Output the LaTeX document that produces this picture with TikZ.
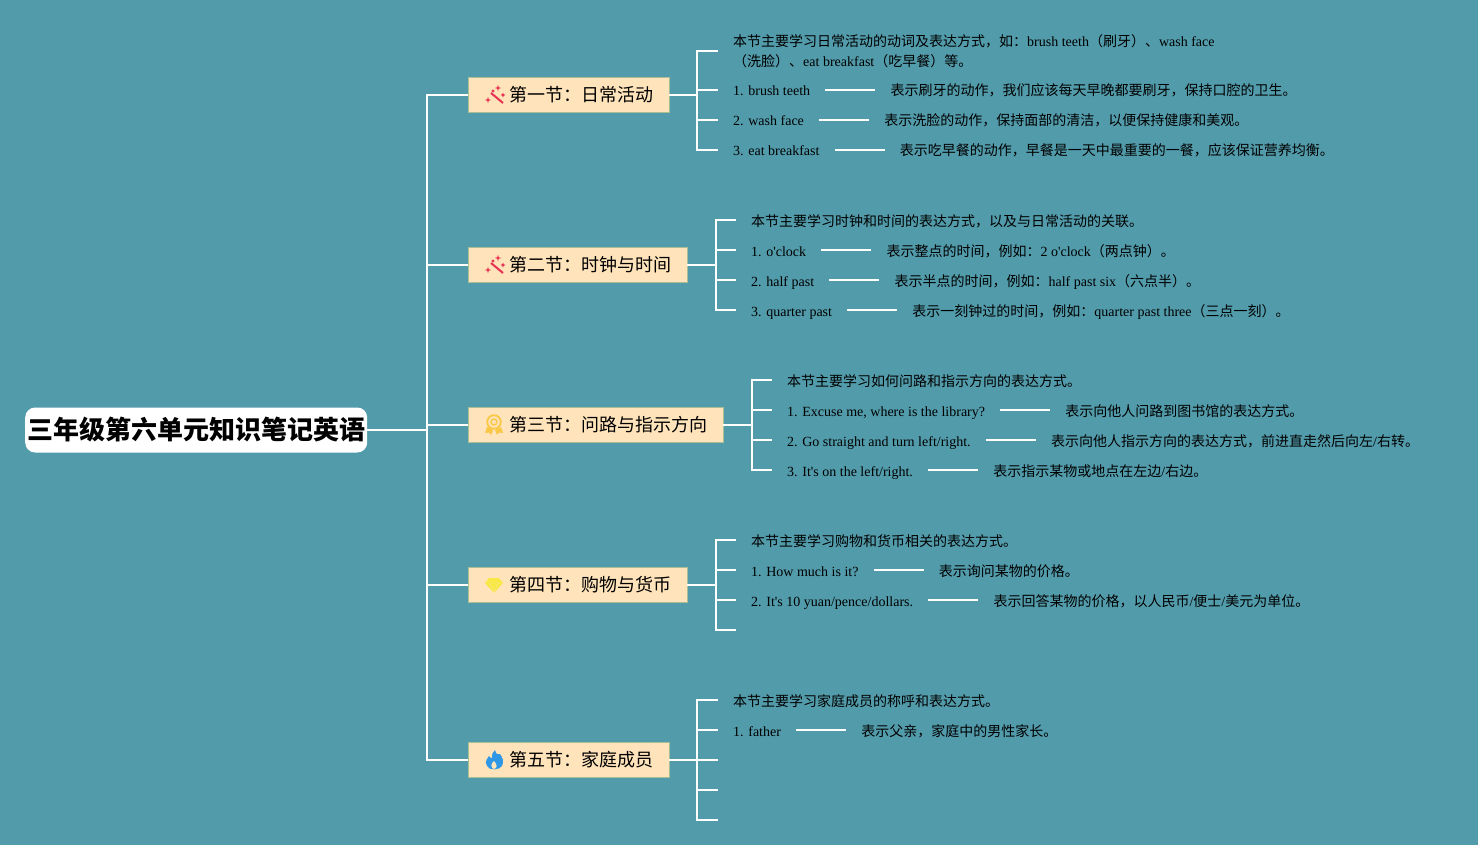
\documentclass[tikz,border=0pt]{standalone}
\usepackage{fontspec}
\setmainfont{Noto Sans CJK SC}
\newfontfamily\latf{Liberation Serif}
\newcommand\enf[1]{{\latf #1}}
\usetikzlibrary{positioning}
\definecolor{bgc}{RGB}{82,155,170}
\definecolor{secfill}{RGB}{255,227,186}
\definecolor{secline}{RGB}{170,190,150}
\definecolor{wandc}{RGB}{232,52,84}
\definecolor{medalc}{RGB}{248,200,70}
\definecolor{gemc}{RGB}{248,232,70}
\definecolor{flamec}{RGB}{46,152,230}
\tikzset{
  x=1pt,y=-1pt,
  conn/.style={draw=white,line width=2pt},
  rootbox/.style={fill=white,rounded corners=10pt,inner sep=0pt,minimum height=45pt,minimum width=342pt,font=\fontsize{26pt}{30pt}\selectfont\bfseries,text=black},
  secbox/.style={fill=secfill,draw=secline,line width=0.8pt,inner xsep=0pt,inner ysep=0pt,minimum height=35pt,font=\fontsize{18pt}{22pt}\selectfont,text=black,anchor=west},
  leaf/.style={inner xsep=15pt,inner ysep=0pt,text height=12pt,text depth=0pt,font=\fontsize{14pt}{20pt}\selectfont,text=black,anchor=west},
  desc/.style={leaf,right=50pt of #1},
  multi/.style={inner xsep=15pt,inner ysep=0pt,align=left,font=\fontsize{14pt}{20pt}\selectfont,text=black,anchor=west},
  pics/wand/.style={code={
    \draw[wandc,line width=2pt] (-3,-2) -- (9,8);
    \foreach \p/\s in {{-6,5}/3.2,{4,-7}/3,{9,0}/2.4,{-1,-4}/1.6}{
      \fill[wandc,shift={(\p)}] (0,-\s) -- (.8,-.8) -- (\s,0) -- (.8,.8) -- (0,\s) -- (-.8,.8) -- (-\s,0) -- (-.8,-.8) -- cycle;}
  }},
  pics/medal/.style={code={
    \fill[medalc] (-7,2) -- (-9,8) -- (-5,7.5) -- (-3,10) -- (-1,5) -- cycle;
    \fill[medalc] (7,2) -- (9,8) -- (5,7.5) -- (3,10) -- (1,5) -- cycle;
    \draw[medalc,line width=1.8pt,fill=secfill] (0,-3) circle (6.8);
    \draw[medalc,line width=1.4pt] (0,-3) circle (3);
  }},
  pics/gem/.style={code={
    \fill[gemc] (-5,-7) -- (5,-7) -- (9,-2) -- (0,8) -- (-9,-2) -- cycle;
    \draw[secfill,line width=.4pt,opacity=.6] (-9,-2) -- (9,-2) (-4,-2) -- (0,8) -- (4,-2);
  }},
  pics/flame/.style={code={
    \fill[flamec] (1,-10) .. controls (2,-5) and (5,-5) .. (6,-6) .. controls (9,-2) and (10,2) .. (8,6) .. controls (6,10) and (-5,11) .. (-7,6) .. controls (-10,1) and (-6,-2) .. (-5,-4) .. controls (-4,-2) and (-3,-2) .. (-2,-2) .. controls (-3,-5) and (-1,-8) .. (1,-10) -- cycle;
    \fill[secfill] (0,9) .. controls (-4,8) and (-3,3) .. (0,1) .. controls (3,4) and (4,8) .. (0,9) -- cycle;
  }}
}
\begin{document}
\begin{tikzpicture}
\useasboundingbox[fill=bgc] (0,0) rectangle (1478,845);

\node[rootbox,anchor=west] (root) at (25,430) {三年级第六单元知识笔记英语};

\node[secbox] (s1) at (467.5,95)  {\hspace*{42pt}第一节：日常活动\hspace*{15pt}};
\node[secbox] (s2) at (467.5,265) {\hspace*{42pt}第二节：时钟与时间\hspace*{15pt}};
\node[secbox] (s3) at (467.5,425) {\hspace*{42pt}第三节：问路与指示方向\hspace*{15pt}};
\node[secbox] (s4) at (467.5,585) {\hspace*{42pt}第四节：购物与货币\hspace*{15pt}};
\node[secbox] (s5) at (467.5,760) {\hspace*{42pt}第五节：家庭成员\hspace*{15pt}};

\pic at (494,95) {wand};
\pic at (494,265) {wand};
\pic at (494,425) {medal};
\pic at (494,585) {gem};
\pic at (494,760) {flame};

\coordinate (bus) at (427,0);
\coordinate (b1) at (697,0);
\coordinate (b2) at (716,0);
\coordinate (b3) at (752,0);
\coordinate (b4) at (716,0);
\coordinate (b5) at (697,0);

% section 1
\node[multi] (a0) at (718,51) {本节主要学习日常活动的动词及表达方式，如：\enf{brush teeth}（刷牙）、\enf{wash face}\\（洗脸）、\enf{eat breakfast}（吃早餐）等。};
\node[leaf] (a1) at (718,90) {\enf{1. brush teeth}};
\node[desc=a1] (a1d) {表示刷牙的动作，我们应该每天早晚都要刷牙，保持口腔的卫生。};
\node[leaf] (a2) at (718,120) {\enf{2. wash face}};
\node[desc=a2] (a2d) {表示洗脸的动作，保持面部的清洁，以便保持健康和美观。};
\node[leaf] (a3) at (718,150) {\enf{3. eat breakfast}};
\node[desc=a3] (a3d) {表示吃早餐的动作，早餐是一天中最重要的一餐，应该保证营养均衡。};

% section 2
\node[leaf] (c0) at (736,220) {本节主要学习时钟和时间的表达方式，以及与日常活动的关联。};
\node[leaf] (c1) at (736,250) {\enf{1. o'clock}};
\node[desc=c1] (c1d) {表示整点的时间，例如：\enf{2 o'clock}（两点钟）。};
\node[leaf] (c2) at (736,280) {\enf{2. half past}};
\node[desc=c2] (c2d) {表示半点的时间，例如：\enf{half past six}（六点半）。};
\node[leaf] (c3) at (736,310) {\enf{3. quarter past}};
\node[desc=c3] (c3d) {表示一刻钟过的时间，例如：\enf{quarter past three}（三点一刻）。};

% section 3
\node[leaf] (d0) at (772,380) {本节主要学习如何问路和指示方向的表达方式。};
\node[leaf] (d1) at (772,410) {\enf{1. Excuse me, where is the library?}};
\node[desc=d1] (d1d) {表示向他人问路到图书馆的表达方式。};
\node[leaf] (d2) at (772,440) {\enf{2. Go straight and turn left/right.}};
\node[desc=d2] (d2d) {表示向他人指示方向的表达方式，前进直走然后向左\enf{/}右转。};
\node[leaf] (d3) at (772,470) {\enf{3. It's on the left/right.}};
\node[desc=d3] (d3d) {表示指示某物或地点在左边\enf{/}右边。};

% section 4
\node[leaf] (e0) at (736,540) {本节主要学习购物和货币相关的表达方式。};
\node[leaf] (e1) at (736,570) {\enf{1. How much is it?}};
\node[desc=e1] (e1d) {表示询问某物的价格。};
\node[leaf] (e2) at (736,600) {\enf{2. It's 10 yuan/pence/dollars.}};
\node[desc=e2] (e2d) {表示回答某物的价格，以人民币\enf{/}便士\enf{/}美元为单位。};
\coordinate (e3) at (736,630);

% section 5
\node[leaf] (f0) at (718,700) {本节主要学习家庭成员的称呼和表达方式。};
\node[leaf] (f1) at (718,730) {\enf{1. father}};
\node[desc=f1] (f1d) {表示父亲，家庭中的男性家长。};
\coordinate (f2) at (718,760);
\coordinate (f3) at (718,790);
\coordinate (f4) at (718,820);

\begin{scope}[conn]
\foreach \s in {s1,s2,s3,s4,s5}
  \draw (root.east) -- (root.east -| bus) |- (\s.west);
\foreach \l in {a0,a1,a2,a3}
  \draw (s1.east) -- (s1.east -| b1) |- (\l.west);
\foreach \l in {c0,c1,c2,c3}
  \draw (s2.east) -- (s2.east -| b2) |- (\l.west);
\foreach \l in {d0,d1,d2,d3}
  \draw (s3.east) -- (s3.east -| b3) |- (\l.west);
\foreach \l in {e0,e1,e2}
  \draw (s4.east) -- (s4.east -| b4) |- (\l.west);
\draw (s4.east) -- (s4.east -| b4) |- (e3);
\foreach \l in {f0,f1}
  \draw (s5.east) -- (s5.east -| b5) |- (\l.west);
\foreach \l in {f2,f3,f4}
  \draw (s5.east) -- (s5.east -| b5) |- (\l);
\foreach \l in {a1,a2,a3,c1,c2,c3,d1,d2,d3,e1,e2,f1}
  \draw (\l.east) -- (\l d.west);
\end{scope}
\end{tikzpicture}
\end{document}
